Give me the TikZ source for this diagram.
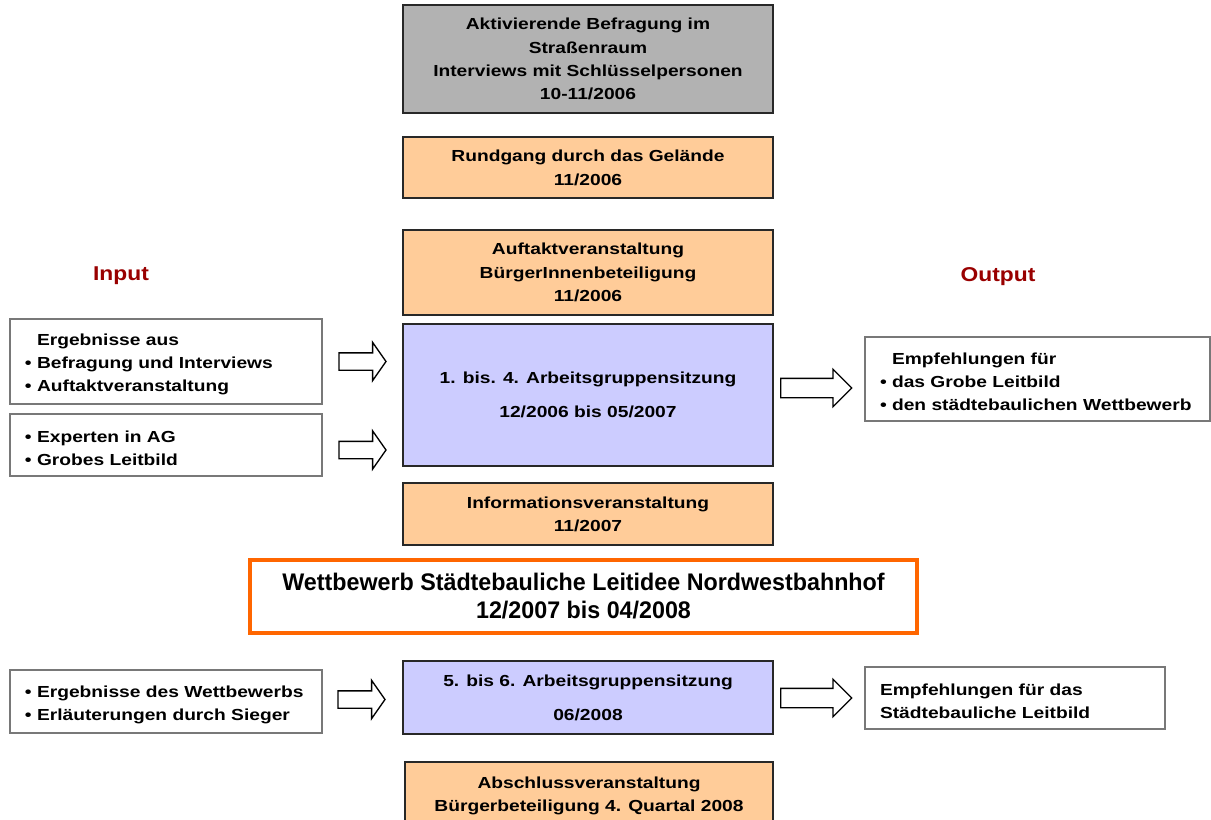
\documentclass[tikz,border=0pt]{standalone}
\usepackage{fontspec}
\setmainfont{Liberation Sans}
\newfontfamily\boxfont{Liberation Sans}[FakeStretch=1.2]
\newfontfamily\wettfont{Liberation Sans}[FakeStretch=0.97]
\newfontfamily\iofont{Liberation Sans}[FakeStretch=1.14]
\usetikzlibrary{positioning,shapes.arrows}
\definecolor{stagegray} {RGB}{178,178,178}
\definecolor{stagepeach}{RGB}{255,204,153}
\definecolor{stageblue} {RGB}{204,204,255}
\definecolor{stageline} {RGB}{ 40, 40, 40}
\definecolor{wettorange}{RGB}{255,102,  0}
\definecolor{iored}     {RGB}{153,  0,  0}
\definecolor{sidegray}  {RGB}{120,120,120}
\newcommand\pu{0.75pt}
\newcommand\topgap{\rule{0pt}{13.2pt}}
\tikzset{
  stage/.style={draw=stageline,line width=1.1pt,fill=stagepeach,
                minimum width=370*\pu,inner sep=0pt,align=center,
                text depth=0pt,
                font=\boxfont\bfseries\fontsize{12}{17.6}\selectfont},
  stagegray/.style={stage,fill=stagegray},
  stageblue/.style={stage,fill=stageblue},
  wettbox/.style={draw=wettorange,line width=2.4pt,fill=white,
                  minimum width=667*\pu,minimum height=73*\pu,
                  inner sep=0pt,align=center,
                  font=\wettfont\bfseries\fontsize{18}{21}\selectfont},
  sidebox/.style={draw=sidegray,line width=2pt,fill=white,
                  inner xsep=15*\pu,inner ysep=0pt,align=left,
                  font=\boxfont\bfseries\fontsize{12}{17.4}\selectfont},
  iolabel/.style={text=iored,font=\iofont\bfseries\fontsize{15}{18}\selectfont},
  inarrow/.style={single arrow,draw=black,line width=1pt,fill=white,
                  inner xsep=0pt,inner ysep=8*\pu,minimum height=47*\pu,
                  single arrow head extend=10.5*\pu,single arrow tip angle=110},
  outarrow/.style={inarrow,inner ysep=9*\pu,minimum height=71*\pu,
                   single arrow head extend=9*\pu,single arrow tip angle=90},
}
\begin{document}
\begin{tikzpicture}[x=\pu,y=-\pu]
\useasboundingbox (0,0) rectangle (1211,820);
\clip (0,0) rectangle (1211,820);

% central column
\node[stagegray,minimum height=108*\pu] (befr) at (588,59)
  {Aktivierende Befragung im\\Straßenraum\\Interviews mit Schlüsselpersonen\\10-11/2006};
\node[stage,minimum height=61*\pu] (rund) at (588,167.5)
  {Rundgang durch das Gelände\\11/2006};
\node[stage,minimum height=85*\pu] (auft) at (588,272.5)
  {Auftaktveranstaltung\\BürgerInnenbeteiligung\\11/2006};
\node[stageblue,minimum height=142*\pu] (ag1) at (588,395)
  {1. bis. 4. Arbeitsgruppensitzung\\[8pt]12/2006 bis 05/2007};
\node[stage,minimum height=62*\pu] (info) at (588,514)
  {Informationsveranstaltung\\11/2007};
\node[wettbox] (wett) at (583.5,596.5)
  {Wettbewerb Städtebauliche Leitidee Nordwestbahnhof\\12/2007 bis 04/2008};
\node[stageblue,minimum height=73*\pu] (ag2) at (588,697.5)
  {5. bis 6. Arbeitsgruppensitzung\\[8pt]06/2008};
\node[stage,minimum width=368*\pu,minimum height=64*\pu] (absch) at (589,794)
  {Abschlussveranstaltung\\Bürgerbeteiligung 4. Quartal 2008};

% input / output
\node[iolabel] (input) at (121,276) {Input};
\node[iolabel] (output) at (998,277) {Output};

\node[sidebox,text width=282*\pu,minimum height=85*\pu] (in1) at (166,361.5)
  {\topgap\hphantom{•\ }Ergebnisse aus\\• Befragung und Interviews\\• Auftaktveranstaltung};
\node[sidebox,text width=282*\pu,minimum height=62*\pu] (in2) at (166,445)
  {\topgap• Experten in AG\\• Grobes Leitbild};
\node[sidebox,text width=282*\pu,minimum height=63*\pu] (in3) at (166,701.5)
  {\topgap• Ergebnisse des Wettbewerbs\\• Erläuterungen durch Sieger};
\node[sidebox,text width=315*\pu,minimum height=84*\pu] (out1) at (1037.5,379)
  {\topgap\hphantom{•\ }Empfehlungen für\\• das Grobe Leitbild\\• den städtebaulichen Wettbewerb};
\node[sidebox,text width=270*\pu,minimum height=62*\pu] (out2) at (1015,698)
  {\topgap Empfehlungen für das\\Städtebauliche Leitbild};

% block arrows
\node[inarrow,right=11.25pt of in1] (a1) {};
\node[inarrow,right=11.25pt of in2,yshift=-5*\pu] (a2) {};
\node[inarrow,right=10.5pt of in3,yshift=2*\pu] (a3) {};
\node[outarrow,left=8.25pt of out1,yshift=-9*\pu] (b1) {};
\node[outarrow,left=8.25pt of out2] (b2) {};
\end{tikzpicture}
\end{document}
